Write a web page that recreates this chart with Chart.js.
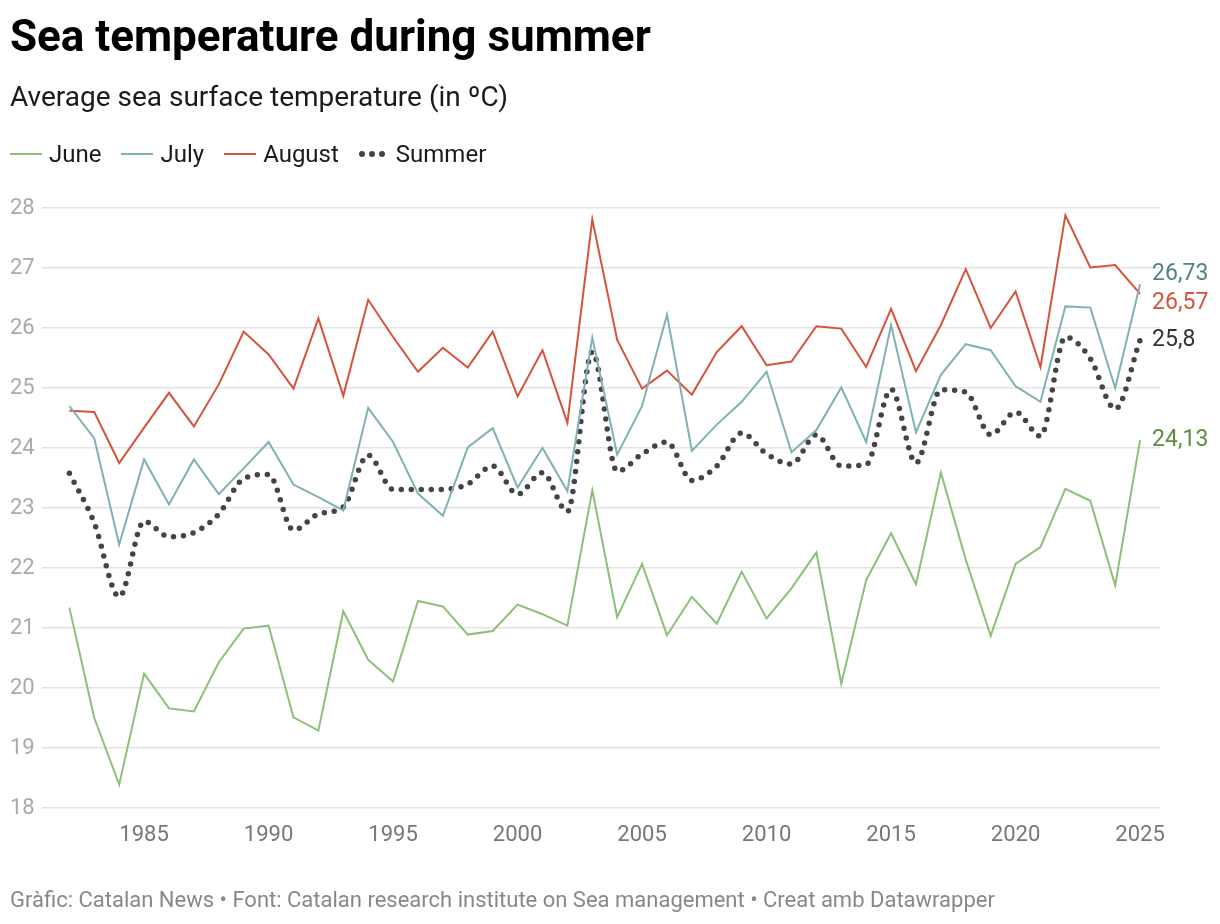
<!DOCTYPE html>
<html>
<head>
<meta charset="utf-8">
<script src="https://cdn.jsdelivr.net/npm/chart.js@4.4.1/dist/chart.umd.min.js"></script>
<style>
  html, body { margin: 0; padding: 0; background: #fff; }
  body { width: 1220px; height: 924px; position: relative; overflow: hidden; font-family: Roboto, "Noto Sans", sans-serif; }
  #title { position: absolute; left: 10px; top: 14px; font-size: 44px; line-height: 44px; font-weight: 700; color: #000; white-space: nowrap; }
  #subtitle { position: absolute; left: 10px; top: 83px; font-size: 28px; line-height: 28px; color: #1a1a1a; white-space: nowrap; }
  #legend { position: absolute; left: 10px; top: 142px; font-size: 24px; line-height: 24px; color: #1a1a1a; white-space: nowrap; display: flex; align-items: center; }
  .item { display: flex; align-items: center; margin-right: 20px; }
  .sw { width: 32px; height: 0; border-top: 2px solid; margin-right: 7px; }
  .dots { display: flex; margin-right: 11px; width: 26px; justify-content: space-between; }
  .dots i { width: 6px; height: 6px; border-radius: 50%; background: #444; display: block; }
  #footer { position: absolute; left: 10px; top: 889px; font-size: 22px; line-height: 22px; color: #888; white-space: nowrap; }
  #wrap { position: absolute; left: 0; top: 0; width: 1220px; height: 924px; }
</style>
</head>
<body>
<div id="wrap"><canvas id="c" width="1220" height="924"></canvas></div>
<div id="title">Sea temperature during summer</div>
<div id="subtitle">Average sea surface temperature (in ºC)</div>
<div id="legend"></div>
<div id="footer">Gràfic: Catalan News • Font: Catalan research institute on Sea management • Creat amb Datawrapper</div>
<script>
// ---- Data ----
const years = [1982,1983,1984,1985,1986,1987,1988,1989,1990,1991,1992,1993,1994,1995,1996,1997,1998,1999,2000,2001,2002,2003,2004,2005,2006,2007,2008,2009,2010,2011,2012,2013,2014,2015,2016,2017,2018,2019,2020,2021,2022,2023,2024,2025];
const june = [21.34,19.50,18.39,20.24,19.66,19.61,20.43,20.99,21.04,19.51,19.29,21.28,20.47,20.11,21.45,21.36,20.89,20.95,21.39,21.23,21.04,23.30,21.18,22.07,20.88,21.52,21.07,21.94,21.16,21.66,22.26,20.07,21.80,22.58,21.73,23.59,22.14,20.87,22.07,22.35,23.32,23.12,21.71,24.13];
const july = [24.70,24.16,22.39,23.81,23.06,23.81,23.23,23.66,24.10,23.39,23.18,22.96,24.67,24.10,23.24,22.87,24.01,24.33,23.34,24.00,23.28,25.84,23.89,24.70,26.22,23.95,24.39,24.77,25.27,23.93,24.30,25.01,24.10,26.05,24.26,25.22,25.73,25.63,25.03,24.77,26.36,26.34,25.00,26.73];
const august = [24.62,24.60,23.75,24.34,24.92,24.36,25.06,25.94,25.56,24.99,26.16,24.87,26.47,25.85,25.27,25.67,25.34,25.94,24.86,25.63,24.42,27.81,25.80,24.99,25.29,24.89,25.60,26.03,25.38,25.44,26.03,25.99,25.35,26.32,25.28,26.05,26.98,26.00,26.61,25.35,27.88,27.01,27.05,26.57];
const summer = [23.58,22.75,21.52,22.78,22.52,22.59,22.90,23.49,23.56,22.63,22.90,23.02,23.88,23.31,23.31,23.31,23.40,23.70,23.23,23.59,22.94,25.60,23.61,23.90,24.10,23.46,23.70,24.25,23.90,23.73,24.22,23.70,23.72,24.98,23.75,24.97,24.93,24.22,24.60,24.20,25.85,25.49,24.65,25.80];
const yTicks = [18,19,20,21,22,23,24,25,26,27,28];
const xTicks = [1985,1990,1995,2000,2005,2010,2015,2020,2025];
const endLabels = ['24,13','26,73','26,57','25,8'];
const seriesNames = ['June','July','August','Summer'];

const lineColors = ['#8cc07a','#7fb1b5','#d4533a','#444444'];
const labelColors = ['#5a8f3e','#4e8486','#d4533a','#333333'];

// ---- Legend (HTML) ----
const lg = document.getElementById('legend');
seriesNames.forEach((n, i) => {
  const it = document.createElement('div'); it.className = 'item';
  if (i === 3) {
    const d = document.createElement('div'); d.className = 'dots';
    d.innerHTML = '<i></i><i></i><i></i>';
    it.appendChild(d);
  } else {
    const s = document.createElement('div'); s.className = 'sw'; s.style.borderTopColor = lineColors[i];
    it.appendChild(s);
  }
  const t = document.createElement('span'); t.textContent = n; it.appendChild(t);
  lg.appendChild(it);
});

const toPts = arr => years.map((y, i) => ({ x: y, y: arr[i] }));

const endLabelPlugin = {
  id: 'endLabels',
  afterDatasetsDraw(chart) {
    const ctx = chart.ctx;
    const items = chart.data.datasets.map((ds, i) => {
      const meta = chart.getDatasetMeta(i);
      const el = meta.data[meta.data.length - 1];
      return { x: el.x, y: el.y, text: endLabels[i], color: labelColors[i] };
    }).sort((a, b) => a.y - b.y);
    const gap = 29;
    let groups = items.map(it => ({ items: [it], center: it.y }));
    let changed = true;
    while (changed) {
      changed = false;
      for (let g = 0; g < groups.length - 1; g++) {
        const a = groups[g], b = groups[g + 1];
        const aBottom = a.center + (a.items.length - 1) * gap / 2;
        const bTop = b.center - (b.items.length - 1) * gap / 2;
        if (bTop - aBottom < gap) {
          const all = a.items.concat(b.items);
          const c = all.reduce((s, it) => s + it.y, 0) / all.length;
          groups.splice(g, 2, { items: all, center: c });
          changed = true; break;
        }
      }
    }
    ctx.save();
    ctx.font = '23px Roboto, "Noto Sans", sans-serif';
    ctx.textBaseline = 'middle';
    ctx.textAlign = 'left';
    groups.forEach(g => {
      const start = g.center - (g.items.length - 1) * gap / 2;
      g.items.forEach((it, k) => {
        ctx.fillStyle = it.color;
        ctx.fillText(it.text, it.x + 12, start + k * gap);
      });
    });
    ctx.restore();
  }
};

new Chart(document.getElementById('c'), {
  type: 'line',
  data: {
    datasets: [
      { label: seriesNames[0], data: toPts(june), borderColor: lineColors[0], borderWidth: 2, pointRadius: 0, tension: 0 },
      { label: seriesNames[1], data: toPts(july), borderColor: lineColors[1], borderWidth: 2, pointRadius: 0, tension: 0 },
      { label: seriesNames[2], data: toPts(august), borderColor: lineColors[2], borderWidth: 2, pointRadius: 0, tension: 0 },
      { label: seriesNames[3], data: toPts(summer), borderColor: lineColors[3], borderWidth: 5.5, borderDash: [0, 10], borderCapStyle: 'round', pointRadius: 0, cubicInterpolationMode: 'monotone' }
    ]
  },
  options: {
    responsive: false,
    animation: false,
    events: [],
    layout: { padding: { top: 208, left: 10, right: 60, bottom: 0 } },
    plugins: { legend: { display: false }, tooltip: { enabled: false } },
    scales: {
      x: {
        type: 'linear', min: 1980.9, max: 2025.8,
        afterBuildTicks: s => { s.ticks = xTicks.map(v => ({ value: v })); },
        afterFit: s => { s.height = 116; },
        grid: { display: false, drawTicks: false },
        border: { display: false },
        ticks: { color: '#777', font: { family: 'Roboto', size: 22 }, padding: 14, maxRotation: 0, autoSkip: false, callback: v => String(v) }
      },
      y: {
        min: 18, max: 28,
        afterBuildTicks: s => { s.ticks = yTicks.map(v => ({ value: v })); },
        afterFit: s => { s.width = 32; },
        grid: { color: '#e3e3e3', lineWidth: 1.5, drawTicks: false },
        border: { display: false },
        ticks: { color: '#aaa', font: { family: 'Roboto', size: 22 }, padding: 0, crossAlign: 'far' }
      }
    }
  },
  plugins: [endLabelPlugin]
});
</script>
</body>
</html>
